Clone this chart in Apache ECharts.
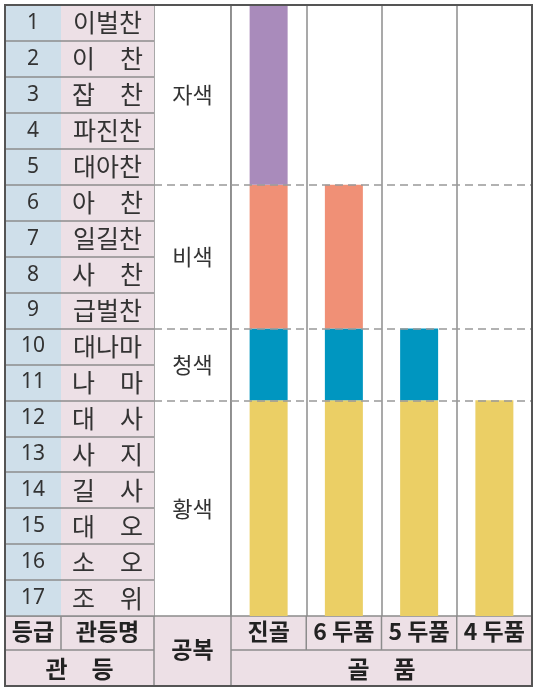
<!DOCTYPE html>
<html>
<head>
<meta charset="utf-8">
<script src="https://cdn.jsdelivr.net/npm/echarts@6/dist/echarts.min.js"></script>
<style>
  html, body { margin: 0; padding: 0; background: #fff; }
  #main { width: 537px; height: 690px; }
</style>
</head>
<body>
<div id="main"></div>
<script>
"use strict";
// 관등 / 공복 / 골품
var ranks = ["1", "2", "3", "4", "5", "6", "7", "8", "9", "10", "11", "12", "13", "14", "15", "16", "17"];
var rankNames = ["이벌찬", "이　찬", "잡　찬", "파진찬", "대아찬", "아　찬", "일길찬", "사　찬", "급벌찬",
  "대나마", "나　마", "대　사", "사　지", "길　사", "대　오", "소　오", "조　위"];
var classes = ["진골", "6두품", "5두품", "4두품"];
var robes = ["자색", "비색", "청색", "황색"];
var robeRanks = [5, 4, 2, 6]; // 공복별 관등 수 (위에서부터)
var purple = [5, 0, 0, 0];
var salmon = [4, 4, 0, 0];
var blue = [2, 2, 2, 0];
var yellow = [6, 6, 6, 6];

var FONT = "Noto Sans CJK KR";
var TXT = "#333";
var LINE = "#8c8c8c";
var PINK = "#ede0e6";
var HEAD = 23;

// layout
var top0 = 5, rowsBottom = 616, midY = 650, bottom0 = 686;
var cols = [5, 61, 154, 231, 532];
var gh = rowsBottom - top0;

// band limits on the value axis (0 = bottom, 17 = top)
var bands = [];
var acc = ranks.length;
robes.forEach(function (r, i) {
  bands.push([acc, acc - robeRanks[i]]);
  acc -= robeRanks[i];
});

function grid(i) {
  return {
    left: cols[i], top: top0, width: cols[i + 1] - cols[i], height: gh,
    show: true, borderColor: LINE, borderWidth: 1.5, backgroundColor: "#fff"
  };
}

function headAxis(idx, data, margin) {
  return {
    type: "category", gridIndex: idx, data: data,
    axisLine: { show: false }, axisTick: { show: false },
    axisLabel: {
      interval: 0, hideOverlap: false,
      margin: margin, fontFamily: FONT, fontSize: HEAD, fontWeight: "bold", color: "#222",
      formatter: function (v) { return v.replace(/^(\d)/, "$1 "); }
    },
    splitLine: { show: idx === 3, interval: 0, lineStyle: { color: LINE, width: 1.5 } }
  };
}

function rankAxis(idx, data, margin, bg, size, font) {
  return {
    type: "category", gridIndex: idx, data: data, inverse: true,
    axisLine: { show: false }, axisTick: { show: false },
    axisLabel: {
      inside: true, align: "center", margin: margin, interval: 0,
      fontFamily: font, fontSize: size, color: TXT
    },
    splitLine: { show: true, interval: 0, lineStyle: { color: LINE, width: 1.5 } },
    splitArea: { show: true, interval: 0, areaStyle: { color: [bg] } }
  };
}

var dash = { color: "#999", type: [8, 5], width: 1.5 };
var dashData = bands.slice(0, bands.length - 1).map(function (b) { return { yAxis: b[1] }; });

var option = {
  animation: false,
  grid: [grid(0), grid(1), grid(2), grid(3)],
  xAxis: [
    headAxis(0, ["등급"], 4),
    headAxis(1, ["관등명"], 4),
    headAxis(2, ["공복"], 22),
    headAxis(3, classes, 4)
  ],
  yAxis: [
    rankAxis(0, ranks, 28, "#cfdfea", 21, "Noto Sans"),
    rankAxis(1, rankNames, 46.5, "#ede0e6", 25, FONT),
    { type: "value", gridIndex: 2, min: 0, max: 17, show: false },
    { type: "value", gridIndex: 3, min: 0, max: 17, show: false }
  ],
  series: [
    {
      type: "line", xAxisIndex: 2, yAxisIndex: 2, data: [], z: 1,
      markLine: { silent: true, symbol: ["none", "none"], label: { show: false }, lineStyle: dash, data: dashData },
      markArea: {
        silent: true,
        itemStyle: { color: "rgba(0,0,0,0)" },
        label: { show: true, position: "inside", fontFamily: FONT, fontSize: 22, color: TXT },
        data: bands.map(function (b, i) { return [{ yAxis: b[0], name: robes[i] }, { yAxis: b[1] }]; })
      }
    },
    {
      type: "line", xAxisIndex: 3, yAxisIndex: 3, data: [], z: 1,
      markLine: { silent: true, symbol: ["none", "none"], label: { show: false }, lineStyle: dash, data: dashData }
    },
    { name: "황색", type: "bar", xAxisIndex: 3, yAxisIndex: 3, stack: "g", barWidth: 38, z: 3, data: yellow, itemStyle: { color: "#ebcf65" } },
    { name: "청색", type: "bar", xAxisIndex: 3, yAxisIndex: 3, stack: "g", barWidth: 38, z: 3, data: blue, itemStyle: { color: "#0096c0" } },
    { name: "비색", type: "bar", xAxisIndex: 3, yAxisIndex: 3, stack: "g", barWidth: 38, z: 3, data: salmon, itemStyle: { color: "#f09076" } },
    { name: "자색", type: "bar", xAxisIndex: 3, yAxisIndex: 3, stack: "g", barWidth: 38, z: 3, data: purple, itemStyle: { color: "#a98bbb" } }
  ],
  graphic: []
};

// header frame
var g = option.graphic;
var lineStyle = { stroke: LINE, lineWidth: 1.5 };
g.push({ type: "rect", z: -10, shape: { x: cols[0], y: rowsBottom, width: cols[4] - cols[0], height: bottom0 - rowsBottom }, style: { fill: PINK } });
g.push({ type: "line", shape: { x1: cols[0], y1: midY, x2: cols[2], y2: midY }, style: lineStyle });
g.push({ type: "line", shape: { x1: cols[3], y1: midY, x2: cols[4], y2: midY }, style: lineStyle });
g.push({ type: "line", shape: { x1: cols[1], y1: rowsBottom, x2: cols[1], y2: midY }, style: lineStyle });
g.push({ type: "line", shape: { x1: cols[2], y1: rowsBottom, x2: cols[2], y2: bottom0 }, style: lineStyle });
g.push({ type: "line", shape: { x1: cols[3], y1: rowsBottom, x2: cols[3], y2: bottom0 }, style: lineStyle });
var cw = (cols[4] - cols[3]) / classes.length;
for (var i = 1; i < classes.length; i++) {
  var x = cols[3] + cw * i;
  g.push({ type: "line", shape: { x1: x, y1: rowsBottom, x2: x, y2: midY }, style: lineStyle });
}
var footStyle = { fontFamily: FONT, fontSize: HEAD + 1, fontWeight: "bold", fill: "#222", align: "center", verticalAlign: "middle" };
g.push({ type: "text", x: (cols[0] + cols[2]) / 2, y: (midY + bottom0) / 2 + 1, style: Object.assign({ text: "관　등" }, footStyle) });
g.push({ type: "text", x: (cols[3] + cols[4]) / 2, y: (midY + bottom0) / 2 + 1, style: Object.assign({ text: "골　품" }, footStyle) });
g.push({ type: "rect", z: 100, shape: { x: cols[0], y: top0, width: cols[4] - cols[0], height: bottom0 - top0 }, style: { fill: null, stroke: "#555", lineWidth: 2 } });

var myChart = echarts.init(document.getElementById("main"));
myChart.setOption(option);
</script>
</body>
</html>
